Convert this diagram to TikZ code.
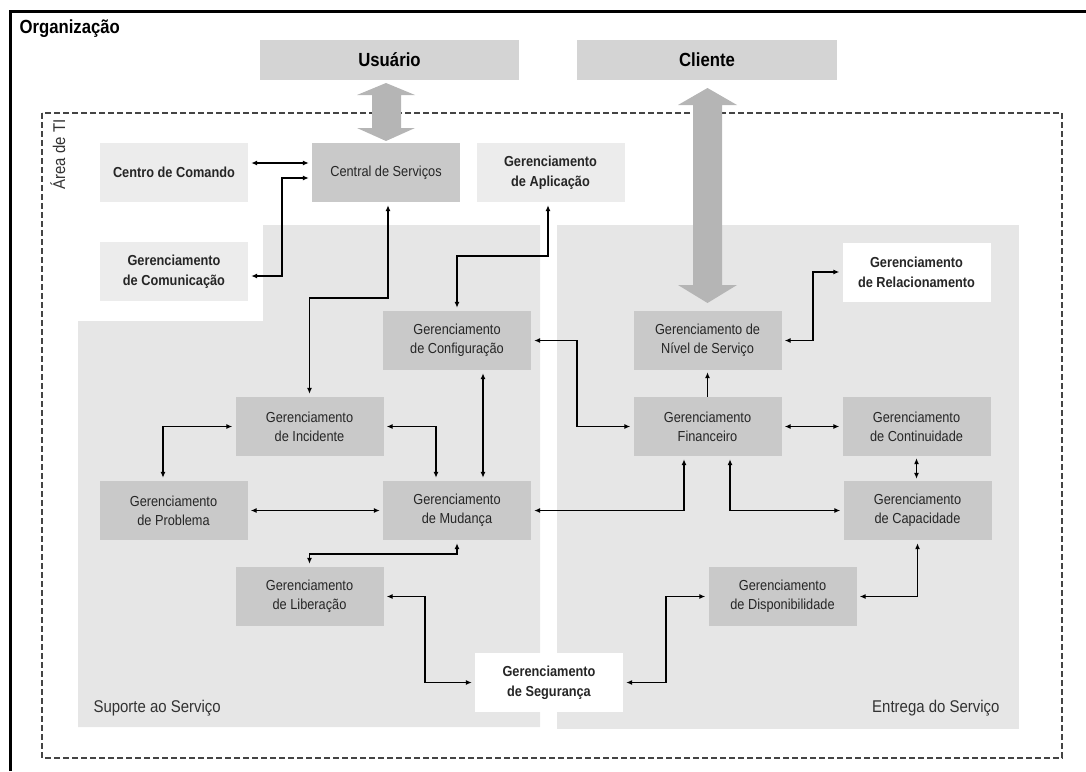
\documentclass[tikz,border=0pt]{standalone}
\usepackage{fontspec}
\setmainfont{Liberation Sans}[FakeStretch=0.88]
\usetikzlibrary{arrows.meta}
\definecolor{fundo}{HTML}{E6E6E6}
\definecolor{caixaescura}{HTML}{C9C9C9}
\definecolor{caixaclara}{HTML}{ECECEC}
\definecolor{caixatopo}{HTML}{D4D4D4}
\definecolor{cinzaseta}{HTML}{B5B5B5}
\definecolor{tracejado}{HTML}{444444}
\begin{document}
\begin{tikzpicture}[x=1pt, y=-1pt, >={Latex[length=6pt,width=5pt]},
	caixa/.style={minimum width=148pt, minimum height=59pt, inner sep=0pt, align=center,
		font=\fontsize{14.5}{19}\selectfont, text=black!85},
	escura/.style={caixa, fill=caixaescura},
	clara/.style={caixa, fill=caixaclara, font=\fontsize{14.5}{20}\selectfont\bfseries},
	branca/.style={caixa, fill=white, font=\fontsize{14.5}{20}\selectfont\bfseries},
	topo/.style={minimum width=259pt, minimum height=40pt, inner sep=0pt, fill=caixatopo,
		font=\fontsize{19}{23}\selectfont\bfseries},
	rotulo/.style={font=\fontsize{17}{20}\selectfont, text=black!80},
	liga/.style={<->, line width=1.3pt, shorten >=3pt, shorten <=3pt}]
	\useasboundingbox (0,0) rectangle (1086,771);
	
	% Organização
	\draw[line width=3pt] (10,771) -- (10,11) -- (1086,11);
	\node[anchor=base west, font=\fontsize{19}{23}\selectfont\bfseries] (org) at (16,33) {Organização};
	
	% Áreas
	\fill[fundo] (263,225) -- (540,225) -- (540,727) -- (78,727) -- (78,321) -- (263,321) -- cycle;
	\fill[fundo] (557,225) rectangle (1019,729);
	\draw[tracejado, line width=1.3pt, dash pattern=on 6pt off 3pt] (42,113) rectangle (1062,758);
	\node[rotulo, anchor=base west, rotate=90] (ti) at (65,193) {Área de TI};
	\node[rotulo, anchor=base west] (suporte) at (90,712) {Suporte ao Serviço};
	\node[rotulo, anchor=base east] (entrega) at (1003,712) {Entrega do Serviço};
	
	% Usuário e Cliente
	\node[topo] (usuario) at (389.5,60) {Usuário};
	\node[topo, minimum width=260pt] (cliente) at (707,60) {Cliente};
	
	% Processos
	\node[clara] (comando) at (174,172.5) {Centro de Comando};
	\node[escura] (central) at (386,172.5) {Central de Serviços};
	\node[clara] (aplicacao) at (550.5,172.5) {Gerenciamento\\de Aplicação};
	\node[clara] (comunicacao) at (174,271.5) {Gerenciamento\\de Comunicação};
	\node[branca] (relacionamento) at (916.5,272) {Gerenciamento\\de Relacionamento};
	\node[escura] (configuracao) at (457,340.5) {Gerenciamento\\de Configuração};
	\node[escura] (nivel) at (707.5,340.5) {Gerenciamento de\\Nível de Serviço};
	\node[escura] (incidente) at (309.5,426.5) {Gerenciamento\\de Incidente};
	\node[escura] (financeiro) at (707.5,426.5) {Gerenciamento\\Financeiro};
	\node[escura] (continuidade) at (916.5,426.5) {Gerenciamento\\de Continuidade};
	\node[escura] (problema) at (173.5,510.5) {Gerenciamento\\de Problema};
	\node[escura] (mudanca) at (457,510.5) {Gerenciamento\\de Mudança};
	\node[escura] (capacidade) at (917.5,510.5) {Gerenciamento\\de Capacidade};
	\node[escura] (liberacao) at (309.5,596.5) {Gerenciamento\\de Liberação};
	\node[escura] (disponibilidade) at (782.5,596.5) {Gerenciamento\\de Disponibilidade};
	\node[branca] (seguranca) at (549,682.5) {Gerenciamento\\de Segurança};
	
	% Setas largas
	\fill[cinzaseta] (386,83) -- (415,95) -- (401,95) -- (401,128) -- (415,128) -- (386,141)
		-- (357,128) -- (372,128) -- (372,95) -- (357,95) -- cycle;
	\fill[cinzaseta] (707.5,88) -- (737,105) -- (722,105) -- (722,285) -- (737,285) -- (707.5,303)
		-- (678,285) -- (693,285) -- (693,105) -- (678,105) -- cycle;
	
	% Ligações
	\draw[liga] ([yshift=9.5pt]comando.east) -- ([yshift=9.5pt]central.west);
	\draw[liga] ([yshift=-4.5pt]comunicacao.east) -| (282,178) -- ([yshift=-5.5pt]central.west);
	\draw[liga] ([xshift=2pt]central.south) |- (incidente.north |- 0,298) -- (incidente.north);
	\draw[liga] ([xshift=-2.5pt]aplicacao.south) |- (configuracao.north |- 0,256) -- (configuracao.north);
	\draw[liga] (relacionamento.west) -| (813,340.5) -- (nivel.east);
	\draw[liga] (configuracao.east) -| (577,426.5) -- (financeiro.west);
	\draw[->, line width=1.3pt, shorten >=2pt] (financeiro.north) -- (nivel.south);
	\draw[liga] (financeiro.east) -- (continuidade.west);
	\draw[liga, shorten >=2pt, shorten <=2pt] (continuidade.south) -- (continuidade.south |- capacidade.north);
	\draw[liga] (incidente.west) -| ([xshift=-10.5pt]problema.north);
	\draw[liga] (incidente.east) -| ([xshift=-21pt]mudanca.north);
	\draw[liga] ([xshift=26pt]configuracao.south) -- ([xshift=26pt]mudanca.north);
	\draw[liga] (problema.east) -- (mudanca.west);
	\draw[liga] (mudanca.east) -| ([xshift=-23.5pt]financeiro.south);
	\draw[liga] ([xshift=22.5pt]financeiro.south) |- (capacidade.west);
	\draw[liga] (mudanca.south) |- (liberacao.north |- 0,554) -- (liberacao.north);
	\draw[liga] (liberacao.east) -| (425,682.5) -- (seguranca.west);
	\draw[liga] (seguranca.east) -| (666,596.5) -- (disponibilidade.west);
	\draw[liga] (disponibilidade.east) -| (capacidade.south);
\end{tikzpicture}
\end{document}
